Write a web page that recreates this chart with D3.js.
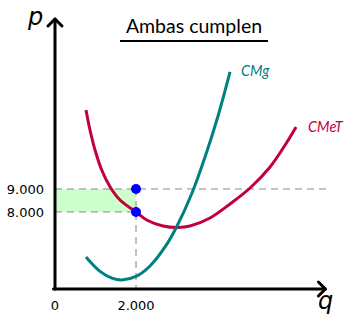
<!DOCTYPE html>
<html>
<head>
<meta charset="utf-8">
<script src="https://cdn.jsdelivr.net/npm/d3@7"></script>
<style>
  body { margin: 0; background: #fff; }
  svg { display: block; }
</style>
</head>
<body>
<svg id="chart" width="354" height="318"></svg>
<script>
// Average total cost curve (q, p)
const cmetQ = [765, 864, 988, 1153, 1358, 1605, 2000, 2264, 2667, 3037, 3333, 3827, 4321, 4815, 5309, 5728, 5951];
const cmetP = [12435, 11565, 10696, 9826, 9100, 8522, 8000, 7652, 7391, 7326, 7391, 7739, 8348, 9043, 9957, 11043, 11696];

// Marginal cost curve (q, p)
const cmgQ = [765, 1111, 1407, 1654, 2000, 2346, 2716, 2988, 3383, 3704, 4025, 4321];
const cmgP = [6043, 5417, 5122, 5043, 5196, 5652, 6478, 7304, 8826, 10391, 12174, 14087];

const xTickVals = [0, 2000];
const xTickLabels = ["0", "2.000"];
const yTickVals = [9000, 8000];
const yTickLabels = ["9.000", "8.000"];

const qStar = 2000;
const pLow = 8000, pHigh = 9000;

const svg = d3.select("#chart");

// Colors
const TEAL = "#008080";
const CRIMSON = "#c3003f";
const BLUE = "#0000ff";
const GREEN = "#ccffcc";

const x = d3.scaleLinear().domain([0, 6700]).range([55, 326.4]);
const y = d3.scaleLinear().domain([4650, 16435]).range([289, 18]);

// green area between the two prices
svg.append("rect")
  .attr("x", x(0)).attr("y", y(pHigh))
  .attr("width", x(qStar) - x(0))
  .attr("height", y(pLow) - y(pHigh))
  .attr("fill", GREEN);

// dashed guides
svg.append("line")
  .attr("x1", x(0)).attr("x2", x(6700))
  .attr("y1", y(pHigh)).attr("y2", y(pHigh))
  .attr("stroke", "#888").attr("stroke-width", 1)
  .attr("stroke-dasharray", "7,5");
svg.append("line")
  .attr("x1", x(0)).attr("x2", x(qStar))
  .attr("y1", y(pLow)).attr("y2", y(pLow))
  .attr("stroke", "#888").attr("stroke-width", 1)
  .attr("stroke-dasharray", "7,5");
svg.append("line")
  .attr("x1", x(qStar)).attr("x2", x(qStar))
  .attr("y1", y(pHigh)).attr("y2", y(4650))
  .attr("stroke", "#aaa").attr("stroke-width", 1.5)
  .attr("stroke-dasharray", "7,5");

// curves
const line = d3.line()
  .x(d => x(d[0]))
  .y(d => y(d[1]))
  .curve(d3.curveCatmullRom.alpha(0.5));

svg.append("path")
  .attr("d", line(d3.zip(cmetQ, cmetP)))
  .attr("fill", "none")
  .attr("stroke", CRIMSON)
  .attr("stroke-width", 3);

svg.append("path")
  .attr("d", line(d3.zip(cmgQ, cmgP)))
  .attr("fill", "none")
  .attr("stroke", TEAL)
  .attr("stroke-width", 3);

// curve labels
svg.append("text")
  .attr("x", x(cmgQ[cmgQ.length - 1]) + 11)
  .attr("y", y(cmgP[cmgP.length - 1]) + 4)
  .attr("font-family", "Lato, sans-serif")
  .attr("font-style", "italic")
  .attr("font-size", 14.5)
  .attr("fill", TEAL)
  .text("CMg");

svg.append("text")
  .attr("x", x(cmetQ[cmetQ.length - 1]) + 12)
  .attr("y", y(cmetP[cmetP.length - 1]) + 5)
  .attr("font-family", "Lato, sans-serif")
  .attr("font-style", "italic")
  .attr("font-size", 14.5)
  .attr("fill", CRIMSON)
  .text("CMeT");

// points
[pHigh, pLow].forEach(p => {
  svg.append("circle")
    .attr("cx", x(qStar)).attr("cy", y(p))
    .attr("r", 5)
    .attr("fill", BLUE);
});

// axes
const axisG = svg.append("g")
  .attr("stroke", "#000")
  .attr("stroke-width", 3)
  .attr("fill", "none")
  .attr("stroke-linecap", "round")
  .attr("stroke-linejoin", "round");

axisG.append("line")
  .attr("x1", x(0)).attr("y1", y(4650))
  .attr("x2", x(0)).attr("y2", y(16435) + 1);
axisG.append("line")
  .attr("x1", x(0) - 1.5).attr("y1", y(4650))
  .attr("x2", x(6700) - 1).attr("y2", y(4650));
axisG.append("path")
  .attr("d", `M${x(0) - 7},${y(16435) + 8} L${x(0)},${y(16435) + 1} L${x(0) + 7},${y(16435) + 8}`);
axisG.append("path")
  .attr("d", `M${x(6700) - 8},${y(4650) - 7} L${x(6700) - 1},${y(4650)} L${x(6700) - 8},${y(4650) + 7}`);

// tick labels
svg.selectAll(".xt").data(xTickVals).join("text")
  .attr("x", d => x(d))
  .attr("y", 310)
  .attr("text-anchor", "middle")
  .attr("font-family", "DejaVu Sans, sans-serif")
  .attr("font-size", 13)
  .attr("fill", "#000")
  .text((d, i) => xTickLabels[i]);

svg.selectAll(".yt").data(yTickVals).join("text")
  .attr("x", 44)
  .attr("y", d => y(d))
  .attr("dy", "0.35em")
  .attr("text-anchor", "end")
  .attr("font-family", "DejaVu Sans, sans-serif")
  .attr("font-size", 13)
  .attr("fill", "#000")
  .text((d, i) => yTickLabels[i]);

// axis names
svg.append("text")
  .attr("x", 28).attr("y", 25)
  .attr("font-family", "DejaVu Sans, sans-serif")
  .attr("font-style", "italic")
  .attr("font-size", 24)
  .attr("fill", "#000")
  .text("p");

svg.append("text")
  .attr("x", 318).attr("y", 309)
  .attr("font-family", "DejaVu Sans, sans-serif")
  .attr("font-style", "italic")
  .attr("font-size", 24)
  .attr("fill", "#000")
  .text("q");

// title
svg.append("text")
  .attr("x", 194).attr("y", 33)
  .attr("text-anchor", "middle")
  .attr("font-family", "Lato, sans-serif")
  .attr("font-size", 19.5)
  .attr("fill", "#000")
  .text("Ambas cumplen");

svg.append("line")
  .attr("x1", 120).attr("x2", 268)
  .attr("y1", 41).attr("y2", 41)
  .attr("stroke", "#000").attr("stroke-width", 2);
</script>
</body>
</html>
